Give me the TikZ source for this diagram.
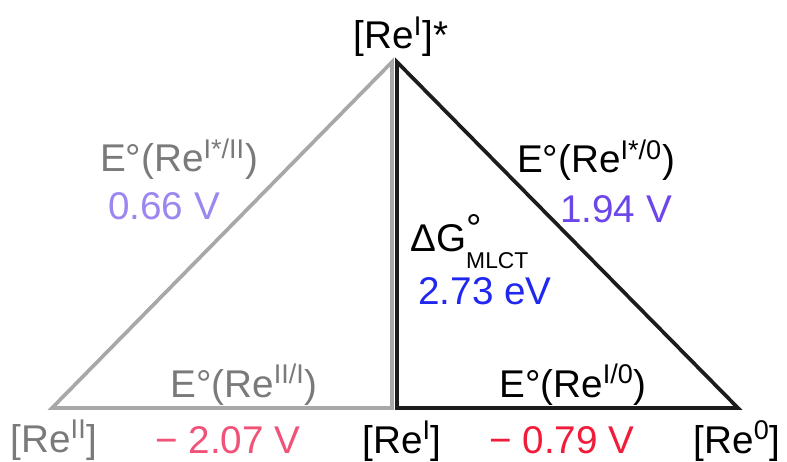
\documentclass[tikz,border=0pt]{standalone}
\usepackage{fontspec}
\setmainfont{Liberation Sans}
\usetikzlibrary{positioning}
\definecolor{lightline}{RGB}{168,168,168}
\definecolor{greytext}{RGB}{122,122,122}
\definecolor{darkline}{RGB}{28,28,28}
\definecolor{lavender}{RGB}{156,134,240}
\definecolor{potviolet}{RGB}{108,70,232}
\definecolor{potblue}{RGB}{32,40,240}
\definecolor{potpink}{RGB}{240,82,120}
\definecolor{potred}{RGB}{240,28,58}
\newcommand{\upsc}[1]{\textsuperscript{#1}}

\begin{document}
\begin{tikzpicture}[
        x=0.02cm, y=-0.02cm,
        every node/.style={font=\fontsize{22}{25}\selectfont, inner sep=0pt, anchor=base},
        lbl/.style={text=black},
        oldlbl/.style={text=greytext},
        side/.style={line width=2.1pt, line join=miter}
    ]
    \useasboundingbox (0,0) rectangle (787,462);
    % corners of the two triangles
    \coordinate (apexL) at (392,62);
    \coordinate (leftL) at (52,408);
    \coordinate (baseL) at (392,408);
    \coordinate (apexR) at (397,62);
    \coordinate (baseR) at (397,408);
    \coordinate (rightR) at (738,408);
    \draw [side, lightline] (apexL) -- (leftL) -- (baseL) -- cycle;
    \draw [side, darkline]  (apexR) -- (baseR) -- (rightR) -- cycle;
    % states
    \node (exc)  [lbl]     at (401,49)  {[Re\upsc{I}]*};
    \node (ox)   [oldlbl]  at (54,452)  {[Re\upsc{II}]};
    \node (gnd)  [lbl]     at (402,453) {[Re\upsc{I}]};
    \node (red)  [lbl]     at (737,453) {[Re\upsc{0}]};
    % potentials
    \node (eox)  [oldlbl]  at (179,172) {E°(Re\upsc{I*/II})};
    \node (vox)  [text=lavender] at (164,220) {0.66 V};
    \node (ered) [lbl]     at (596,173) {E°(Re\upsc{I*/0})};
    \node (vred) [text=potviolet] at (616,223) {1.94 V};
    \node (dg)   [lbl, anchor=base west] at (410,252)
        {ΔG\rlap{\raisebox{0.28em}{°}}\raisebox{-0.42em}{\fontsize{13}{13}\selectfont MLCT}};
    \node (vdg)  [text=potblue, anchor=base west] at (418,305) {2.73 eV};
    \node (egox) [oldlbl]  at (244,397) {E°(Re\upsc{II/I})};
    \node (egrd) [lbl]     at (573,397) {E°(Re\upsc{I/0})};
    \node (vgox) [text=potpink] at (228,453) {− 2.07 V};
    \node (vgrd) [text=potred]  at (562,453) {− 0.79 V};
\end{tikzpicture}
\end{document}
